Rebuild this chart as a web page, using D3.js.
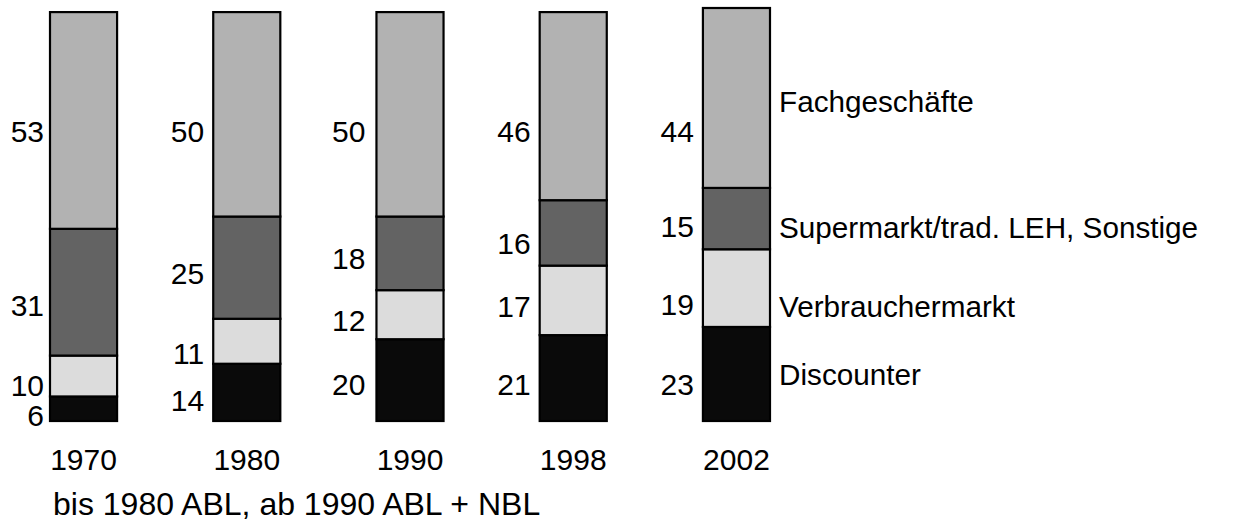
<!DOCTYPE html>
<html>
<head>
<meta charset="utf-8">
<script src="https://cdn.jsdelivr.net/npm/d3@7"></script>
<style>
  html, body { margin: 0; padding: 0; background: #ffffff; }
  svg { display: block; }
  text { font-family: "Liberation Sans", Arial, sans-serif; fill: #000; }
</style>
</head>
<body>
<svg id="chart" width="1245" height="523"></svg>
<script>
// ---- data ----
const years = ["1970", "1980", "1990", "1998", "2002"];
const seriesNames = ["Discounter", "Verbrauchermarkt", "Supermarkt/trad. LEH, Sonstige", "Fachgeschäfte"];
const discounter       = [6, 14, 20, 21, 23];
const verbrauchermarkt = [10, 11, 12, 17, 19];
const supermarkt       = [31, 25, 18, 16, 15];
const fachgeschaefte   = [53, 50, 50, 46, 44];
const footnote = "bis 1980 ABL, ab 1990 ABL + NBL";

// ---- layout / style ----
const colors = ["#0a0a0a", "#dcdcdc", "#636363", "#b2b2b2"];
const fontSize = 30;
const capHalf = fontSize * 0.716 / 2;
// hand-placed value label offsets from segment middle (px), per year, per series
const labelNudge = [
  [7, 9, 13, 10.5],
  [8, 12, 6, 17],
  [4.5, 6, 5, 17],
  [6.5, 5.5, 10, 25],
  [10.5, 16, 7.5, 33]
];
const labelGap = [6, 9, 11, 9, 9];
const legendNudge = [0.5, 18, 8.6, 3];

const svg = d3.select("#chart");

const table = years.map((y, i) => ({
  year: y,
  [seriesNames[0]]: discounter[i],
  [seriesNames[1]]: verbrauchermarkt[i],
  [seriesNames[2]]: supermarkt[i],
  [seriesNames[3]]: fachgeschaefte[i]
}));
const stacked = d3.stack().keys(seriesNames)(table);

const x = d3.scaleBand().domain(years).range([50, 770]).paddingInner(0.589).paddingOuter(0);
const y = d3.scaleLinear().domain([0, 101]).range([421, 8]);

// bars
const layers = svg.append("g").selectAll("g")
  .data(stacked).join("g")
  .attr("fill", (d, i) => colors[i]);

layers.selectAll("rect")
  .data(d => d)
  .join("rect")
  .attr("x", d => x(d.data.year))
  .attr("width", x.bandwidth())
  .attr("y", d => y(d[1]))
  .attr("height", d => y(d[0]) - y(d[1]))
  .attr("stroke", "#000")
  .attr("stroke-width", 2.2);

// value labels
stacked.forEach((layer, si) => {
  svg.append("g").selectAll("text")
    .data(layer).join("text")
    .attr("x", (d, yi) => x(d.data.year) - labelGap[yi])
    .attr("y", (d, yi) => y((d[0] + d[1]) / 2) + labelNudge[yi][si] + capHalf)
    .attr("text-anchor", "end")
    .attr("font-size", fontSize)
    .text(d => d[1] - d[0]);
});

// year labels (axis)
const xAxis = svg.append("g").attr("transform", "translate(0,470)");
xAxis.selectAll("text").data(years).join("text")
  .attr("x", d => x(d) + x.bandwidth() / 2)
  .attr("y", 0)
  .attr("text-anchor", "middle")
  .attr("font-size", fontSize)
  .text(d => d);

// series names right of last bar
const lastIdx = years.length - 1;
const lastYear = years[lastIdx];
svg.append("g").selectAll("text")
  .data(stacked).join("text")
  .attr("x", x(lastYear) + x.bandwidth() + 9)
  .attr("y", (layer, si) => y((layer[lastIdx][0] + layer[lastIdx][1]) / 2) + legendNudge[si] + capHalf)
  .attr("font-size", 29.7)
  .text(layer => layer.key);

// footnote
svg.append("text")
  .attr("x", 53)
  .attr("y", 515)
  .attr("font-size", 32)
  .text(footnote);
</script>
</body>
</html>
